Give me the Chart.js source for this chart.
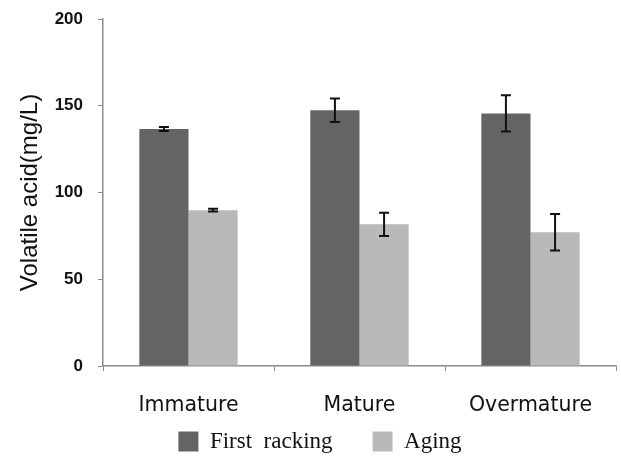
<!DOCTYPE html>
<html>
<head>
<meta charset="utf-8">
<script src="https://cdn.jsdelivr.net/npm/chart.js@4.4.1/dist/chart.umd.min.js"></script>
<style>
  html, body { margin: 0; padding: 0; background: #fff; }
  #wrap { width: 621px; height: 458px; }
</style>
</head>
<body>
<div id="wrap"><canvas id="acidChart" width="621" height="458"></canvas></div>
<script>
// Data
const stages = ['Immature', 'Mature', 'Overmature'];
const seriesNames = ['First  racking', 'Aging'];
const firstRacking = [136.6, 147.4, 145.6];
const firstRackingErr = [1.1, 6.8, 10.5];
const aging = [89.8, 81.7, 77.1];
const agingErr = [0.8, 6.7, 10.5];
const yTicks = [0, 50, 100, 150, 200];

const darkGrey = '#646464';
const lightGrey = '#b9b9b9';
const axisGrey = '#8c8c8c';

// Draws the error whiskers on top of each bar using the chart's own scales
const errorBars = {
    id: 'errorBars',
    afterDatasetsDraw(chart) {
        const ctx = chart.ctx;
        const yScale = chart.scales.y;
        ctx.save();
        ctx.strokeStyle = '#111';
        ctx.lineWidth = 2;
        chart.data.datasets.forEach((ds, i) => {
            const meta = chart.getDatasetMeta(i);
            meta.data.forEach((bar, j) => {
                const v = ds.data[j];
                const e = ds.errors[j];
                const x = bar.x;
                const yTop = yScale.getPixelForValue(v + e);
                const yBot = yScale.getPixelForValue(v - e);
                const cap = 5;
                ctx.beginPath();
                ctx.moveTo(x, yTop); ctx.lineTo(x, yBot);
                ctx.moveTo(x - cap, yTop); ctx.lineTo(x + cap, yTop);
                ctx.moveTo(x - cap, yBot); ctx.lineTo(x + cap, yBot);
                ctx.stroke();
            });
        });
        ctx.restore();
    }
};

// Pull the legend up closer to the category labels (keeps the wide item spacing)
const legendNudge = {
    id: 'legendNudge',
    afterLayout(chart) {
        if (chart.legend) {
            chart.legend.top -= 26;
            chart.legend.bottom -= 26;
            chart.legend.left += 12;
            chart.legend.right += 12;
        }
    }
};

const ctx = document.getElementById('acidChart').getContext('2d');
new Chart(ctx, {
    type: 'bar',
    data: {
        labels: stages,
        datasets: [
            {
                label: seriesNames[0],
                data: firstRacking,
                errors: firstRackingErr,
                backgroundColor: darkGrey,
                categoryPercentage: 0.575,
                barPercentage: 1.0
            },
            {
                label: seriesNames[1],
                data: aging,
                errors: agingErr,
                backgroundColor: lightGrey,
                categoryPercentage: 0.575,
                barPercentage: 1.0
            }
        ]
    },
    options: {
        responsive: false,
        animation: false,
        layout: { padding: { top: 19, right: 5, left: 0, bottom: -31 } },
        plugins: {
            tooltip: { enabled: false },
            legend: {
                position: 'bottom',
                labels: {
                    color: '#111',
                    boxWidth: 20,
                    boxHeight: 20,
                    padding: 40,
                    font: { family: "'Liberation Serif', serif", size: 23 }
                }
            }
        },
        scales: {
            x: {
                afterFit: (scale) => { scale.height = 50; },
                border: { color: axisGrey, width: 1.5 },
                grid: { display: true, offset: true, drawOnChartArea: false, drawTicks: true, tickLength: 5, color: axisGrey },
                ticks: {
                    color: '#111',
                    padding: 22,
                    font: { family: "'DejaVu Sans', sans-serif", size: 20.5 }
                }
            },
            y: {
                min: 0,
                max: 200,
                afterFit: (scale) => { scale.width = 103; scale.paddingTop = 0; scale.paddingBottom = 0; },
                afterBuildTicks: (scale) => { scale.ticks = yTicks.map(v => ({ value: v })); },
                border: { color: axisGrey, width: 1.5 },
                grid: { display: true, drawOnChartArea: false, drawTicks: true, tickLength: 5, color: axisGrey },
                ticks: {
                    color: '#111',
                    padding: 15,
                    font: { family: "'Liberation Sans', sans-serif", size: 17, weight: 'bold' }
                },
                title: {
                    display: true,
                    text: 'Volatile acid(mg/L)',
                    color: '#111',
                    padding: { top: 16, bottom: 0 },
                    font: { family: "'Liberation Sans', sans-serif", size: 24 }
                }
            }
        }
    },
    plugins: [errorBars, legendNudge]
});
</script>
</body>
</html>
